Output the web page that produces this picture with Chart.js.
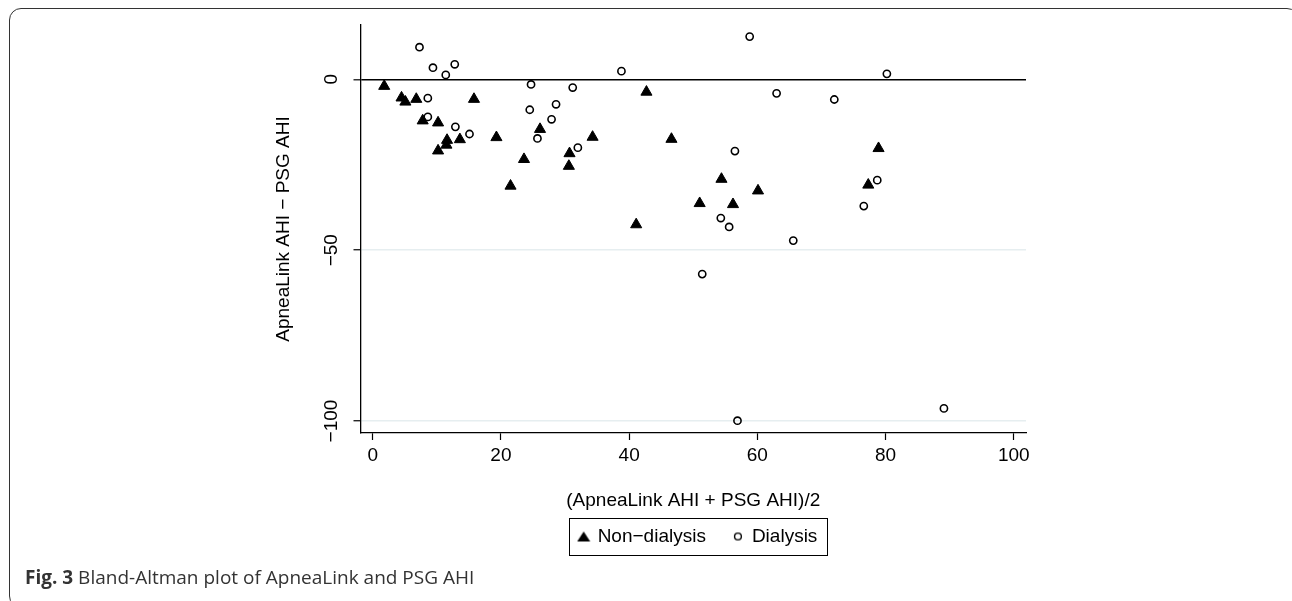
<!DOCTYPE html>
<html>
<head>
<meta charset="utf-8">
<script src="https://cdn.jsdelivr.net/npm/chart.js@4/dist/chart.umd.min.js"></script>
<style>
  html, body { margin: 0; padding: 0; background: #fff; }
  body { width: 1292px; height: 601px; position: relative; overflow: hidden; }
  #frame {
    position: absolute; left: 9px; top: 8px; width: 1290px; height: 600px;
    border: 1.5px solid #333; border-radius: 12px; box-sizing: border-box;
  }
  #wrap { position: absolute; left: 0; top: 0; width: 1292px; height: 601px; }
  #caption {
    position: absolute; left: 25px; top: 566px;
    font-family: "Open Sans", sans-serif; font-size: 19px; line-height: 22px; color: #333;
  }
  #caption b { font-weight: 700; }
</style>
</head>
<body>
<div id="frame"></div>
<div id="wrap"><canvas id="chart" width="1292" height="601"></canvas></div>
<div id="caption"><b>Fig. 3</b> Bland-Altman plot of ApneaLink and PSG AHI</div>
<script>
// Bland-Altman data
// x = mean of the two AHI values, y = ApneaLink AHI - PSG AHI
const nonDialysisX = [1.8, 4.5, 5.1, 6.8, 7.8, 10.2, 11.6, 11.5, 10.2, 13.6, 15.8, 19.3, 23.6, 21.5,
  26.1, 30.7, 30.6, 34.3, 41.1, 42.7, 46.6, 51.0, 54.4, 56.2, 60.1, 77.3, 78.9];
const nonDialysisY = [-2.0, -5.4, -6.6, -5.8, -12.1, -12.7, -17.8, -19.2, -20.9, -17.6, -5.8, -17.0, -23.4, -31.2,
  -14.6, -21.7, -25.4, -16.9, -42.5, -3.7, -17.5, -36.3, -29.2, -36.6, -32.6, -30.9, -20.2];

const dialysisX = [7.3, 9.4, 11.4, 12.8, 8.6, 8.6, 12.9, 15.1, 24.7, 24.5, 28.6, 27.9, 25.7, 31.2, 32.0,
  38.8, 51.4, 54.3, 55.6, 56.5, 56.9, 58.8, 63.0, 65.6, 72.0, 76.6, 78.7, 80.2, 89.1];
const dialysisY = [9.4, 3.4, 1.3, 4.4, -5.5, -11.0, -13.9, -16.0, -1.5, -8.9, -7.3, -11.7, -17.3, -2.4, -20.0,
  2.4, -57.0, -40.6, -43.2, -21.0, -99.9, 12.5, -4.1, -47.2, -5.9, -37.1, -29.5, 1.6, -96.3];

const xTicks = [0, 20, 40, 60, 80, 100];
const yTicks = [0, -50, -100];
const seriesNames = ["Non\u2212dialysis", "Dialysis"];

Chart.defaults.font.family = "'Liberation Sans', Arial, sans-serif";
Chart.defaults.font.size = 19;
Chart.defaults.color = "#000";

function toPoints(xs, ys) {
  return xs.map((x, i) => ({ x: x, y: ys[i] }));
}

// small marker pictures for the legend keys
function legendMarker(kind) {
  const c = document.createElement("canvas");
  c.width = 14;
  c.height = 14;
  const g = c.getContext("2d");
  if (kind === "triangle") {
    g.fillStyle = "#000";
    g.beginPath();
    g.moveTo(7, 2);
    g.lineTo(13.5, 12);
    g.lineTo(0.5, 12);
    g.closePath();
    g.fill();
  } else {
    g.strokeStyle = "#000";
    g.lineWidth = 1.4;
    g.beginPath();
    g.arc(7, 7, 3.4, 0, Math.PI * 2);
    g.stroke();
  }
  return c;
}
const legendMarkers = [legendMarker("triangle"), legendMarker("circle")];

// nudge the legend a little to the right, then box it like the Stata one
const legendBox = {
  id: "legendBox",
  afterLayout(chart) {
    chart.legend.left += 5;
    chart.legend.right += 5;
  },
  afterDraw(chart) {
    const hb = chart.legend.legendHitBoxes;
    if (!hb || hb.length < 2) return;
    const ctx = chart.ctx;
    const left = hb[0].left - 10.5;
    const right = hb[1].left + hb[1].width + 9.6;
    const top = hb[0].top - 9;
    const bottom = hb[0].top + hb[0].height + 9;
    ctx.save();
    ctx.strokeStyle = "#000";
    ctx.lineWidth = 1;
    ctx.strokeRect(Math.round(left) + 0.5, Math.round(top) + 0.5, Math.round(right - left), Math.round(bottom - top));
    ctx.restore();
  },
};

const ctx = document.getElementById("chart").getContext("2d");
new Chart(ctx, {
  type: "scatter",
  data: {
    datasets: [
      {
        label: seriesNames[0],
        data: toPoints(nonDialysisX, nonDialysisY),
        pointStyle: "triangle",
        pointRadius: 6.4,
        pointHoverRadius: 6.4,
        backgroundColor: "#000",
        borderColor: "#000",
        borderWidth: 1,
      },
      {
        label: seriesNames[1],
        data: toPoints(dialysisX, dialysisY),
        pointStyle: "circle",
        pointRadius: 3.6,
        pointHoverRadius: 3.6,
        backgroundColor: "rgba(0,0,0,0)",
        borderColor: "#000",
        borderWidth: 1.6,
      },
    ],
  },
  options: {
    responsive: false,
    animation: false,
    layout: { padding: { left: 272, right: 266, top: 25, bottom: 45 } },
    plugins: {
      tooltip: { enabled: false },
      legend: {
        position: "bottom",
        fullSize: false,
        labels: {
          usePointStyle: true,
          boxWidth: 9,
          boxHeight: 9,
          padding: 27.5,
          color: "#000",
          font: { size: 19 },
          generateLabels(chart) {
            const items = Chart.defaults.plugins.legend.labels.generateLabels(chart);
            items.forEach((it, i) => { it.pointStyle = legendMarkers[i]; });
            return items;
          },
        },
      },
    },
    scales: {
      x: {
        type: "linear",
        min: -1.9,
        max: 101.9,
        afterBuildTicks: (scale) => { scale.ticks = xTicks.map((v) => ({ value: v })); },
        afterFit: (scale) => { scale.height = 66.5; },
        grid: { drawOnChartArea: false, tickColor: "#000", tickLength: 7, tickWidth: 1.2 },
        border: { color: "#000", width: 1.3 },
        ticks: { padding: 4, color: "#000", font: { size: 19 } },
        title: {
          display: true,
          text: "(ApneaLink AHI + PSG AHI)/2",
          color: "#000",
          font: { size: 19 },
          padding: { top: 0, bottom: -12.5 },
        },
      },
      y: {
        type: "linear",
        min: -103.5,
        max: 15.9,
        afterBuildTicks: (scale) => { scale.ticks = yTicks.map((v) => ({ value: v })); },
        afterFit: (scale) => { scale.width = 88.5; },
        grid: {
          color: (c) => (c.tick && c.tick.value === 0 ? "#000" : "#e6eef0"),
          lineWidth: (c) => (c.tick && c.tick.value === 0 ? 1.6 : 1.5),
          tickColor: "#000",
          tickLength: 7,
          tickWidth: 1.2,
        },
        border: { color: "#000", width: 1.3 },
        ticks: {
          minRotation: 90,
          maxRotation: 90,
          crossAlign: "center",
          padding: 0,
          color: "#000",
          font: { size: 19 },
          callback: (v) => String(v).replace("-", "\u2212"),
        },
        title: {
          display: true,
          text: "ApneaLink AHI \u2212 PSG AHI",
          color: "#000",
          font: { size: 19 },
          padding: { top: 0, bottom: 0 },
        },
      },
    },
  },
  plugins: [legendBox],
});
</script>
</body>
</html>
